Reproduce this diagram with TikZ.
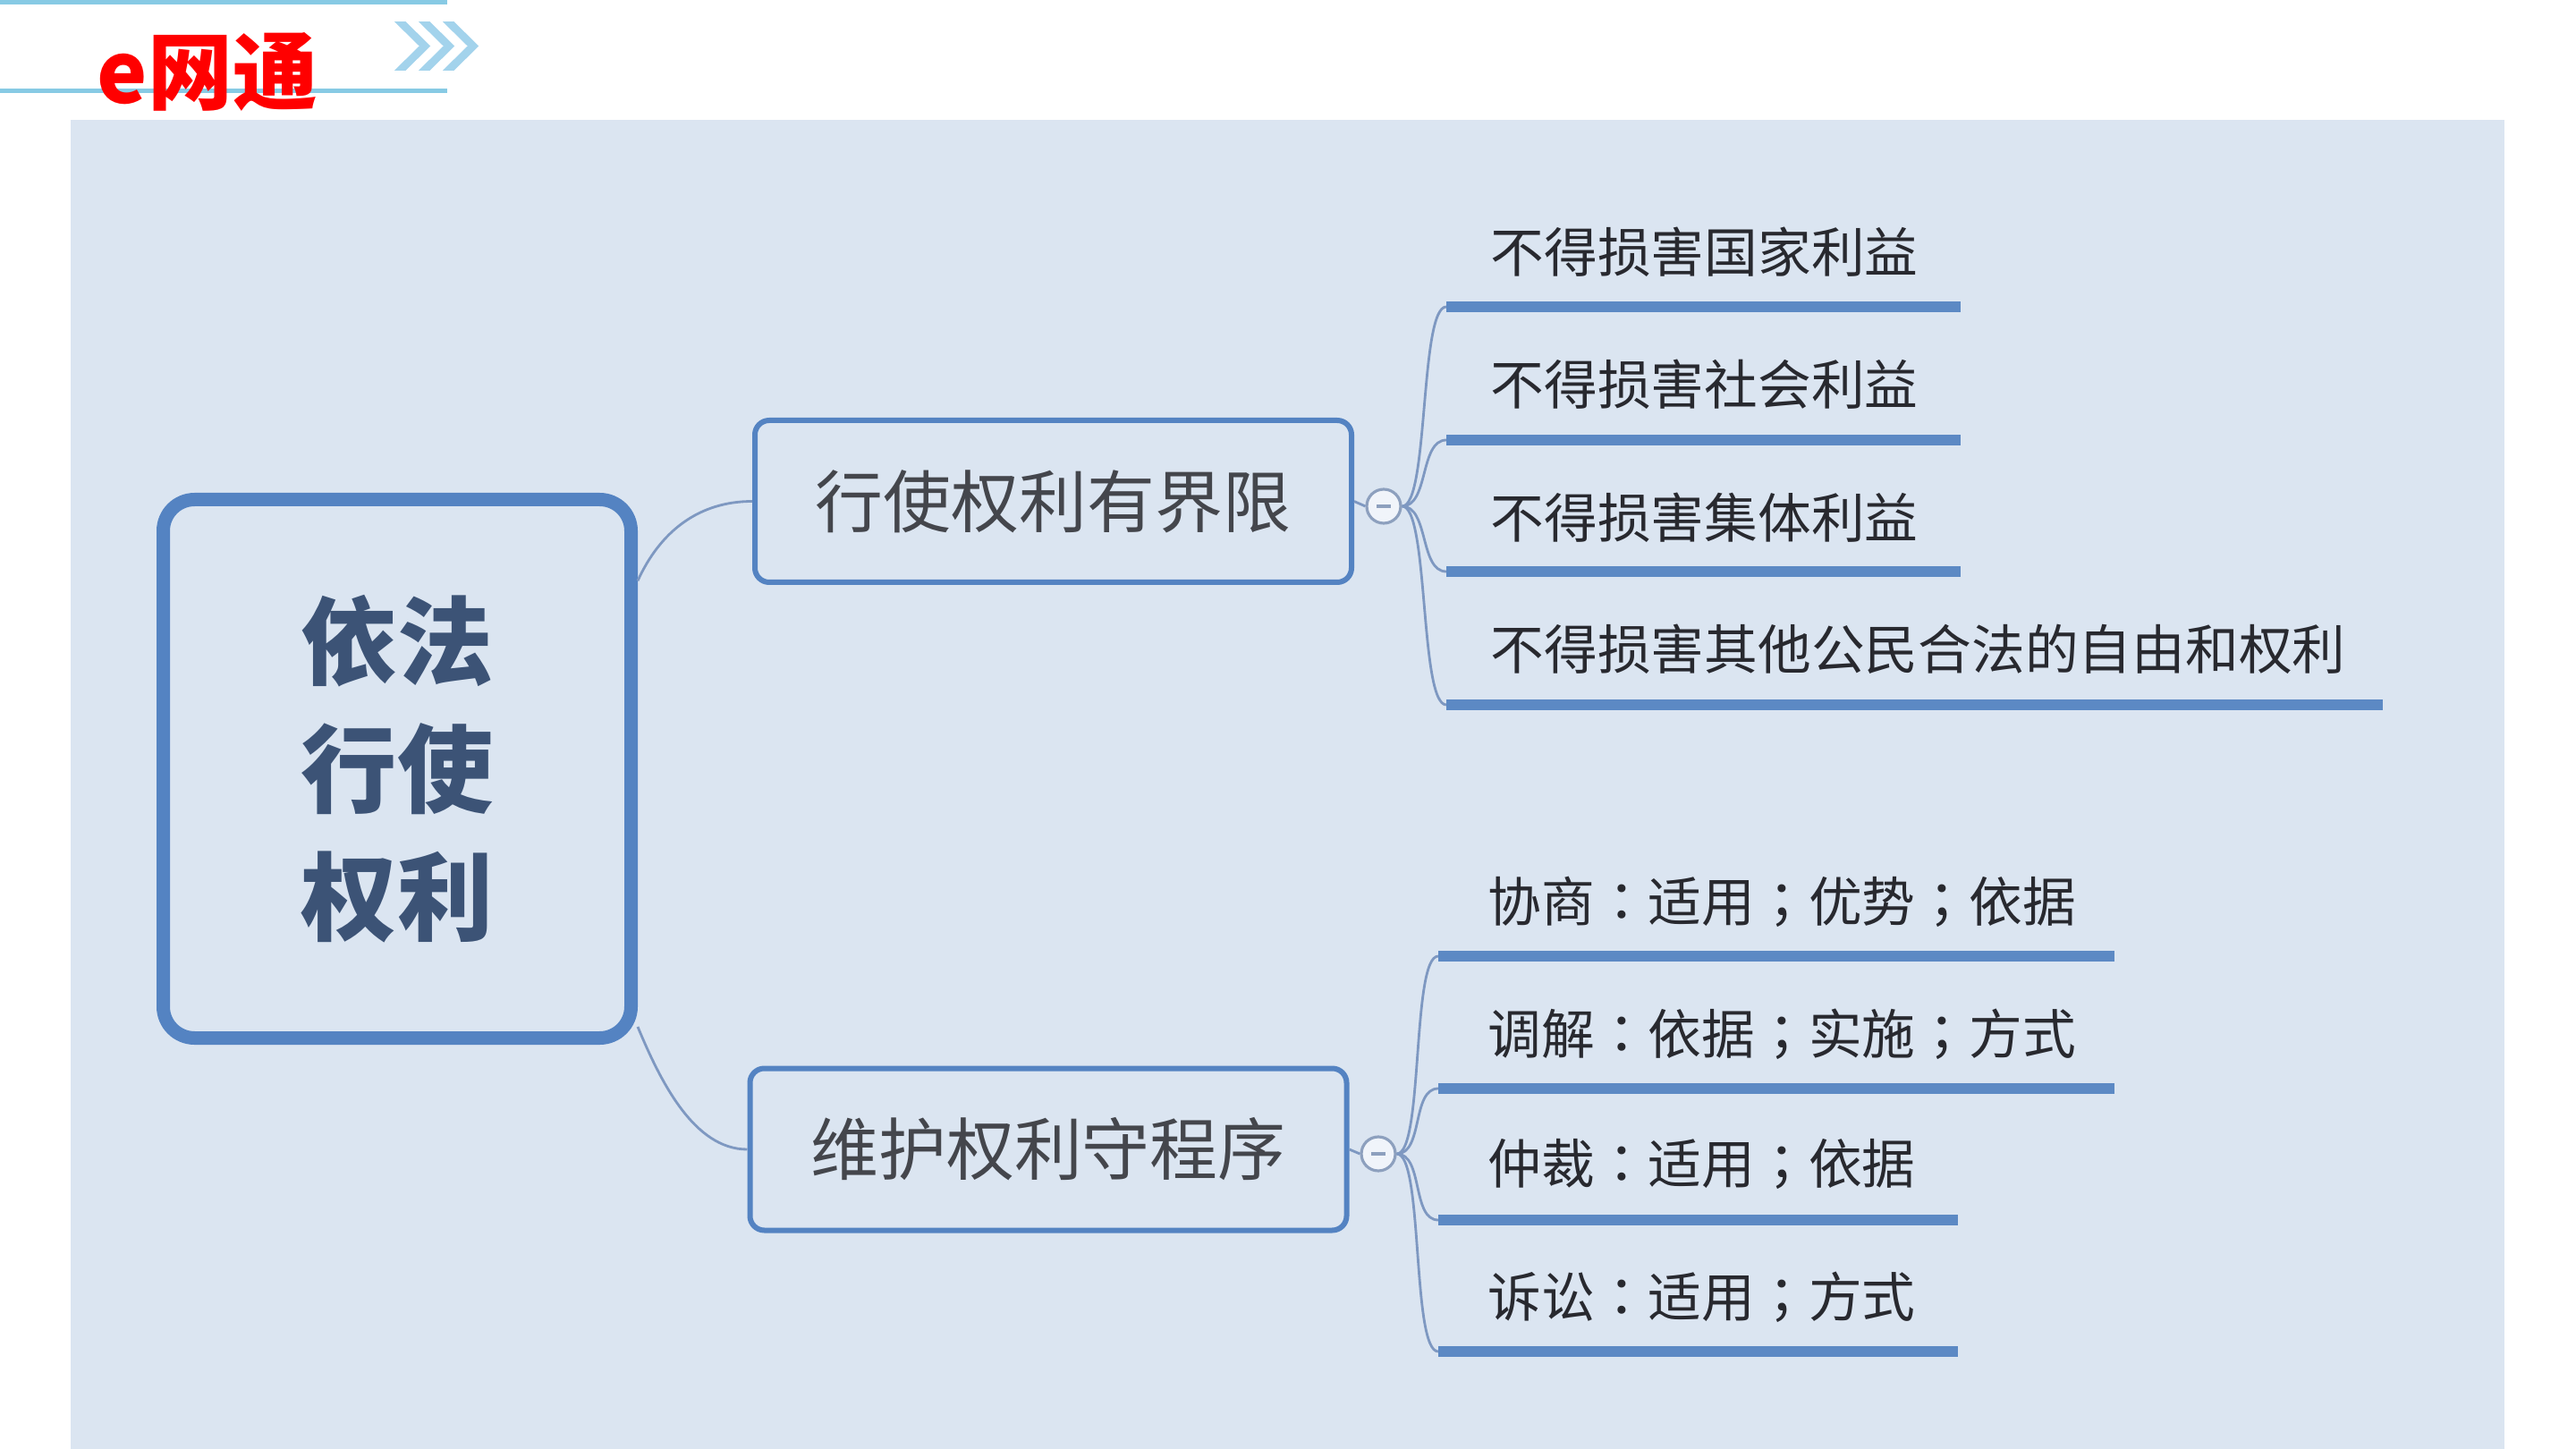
\documentclass[tikz,border=0pt]{standalone}
\usepackage{fontspec}
\setmainfont{Noto Sans CJK SC}
\newfontfamily\tcpunct{Noto Sans CJK TC}
\newcommand{\zcolon}{{\tcpunct ：}}
\newcommand{\zsemi}{{\tcpunct ；}}
\usepackage{tikz}
\usetikzlibrary{arrows}
\definecolor{bgblue}{RGB}{219,229,241}
\definecolor{boxblue}{RGB}{84,131,194}
\definecolor{barblue}{RGB}{92,137,196}
\definecolor{edgeblue}{RGB}{126,152,193}
\definecolor{foldgray}{RGB}{141,160,190}
\definecolor{foldfill}{RGB}{240,244,250}
\definecolor{roottext}{RGB}{60,83,118}
\definecolor{branchtext}{RGB}{68,70,76}
\definecolor{leaftext}{RGB}{40,41,47}
\definecolor{lineblue}{RGB}{135,202,228}
\definecolor{chevblue}{RGB}{163,211,236}
\begin{document}
\begin{tikzpicture}
        \tikzset{root/.style = {shape=rectangle, rounded corners=0.35cm, draw=boxblue, line width=0.15cm, fill=bgblue, minimum width=5.23cm, minimum height=6.02cm, align=center, text=roottext, font=\fontsize{30.5}{40.7}\selectfont\bfseries}}
        \tikzset{branch/.style = {shape=rectangle, rounded corners=0.16cm, draw=boxblue, line width=0.06cm, fill=bgblue, minimum width=6.67cm, minimum height=1.81cm, text=branchtext, font=\fontsize{21.6}{26}\selectfont}}
        \tikzset{leaf/.style = {anchor=west, inner sep=0pt, text=leaftext, font=\fontsize{17}{20}\selectfont}}
        \tikzset{fold/.style = {shape=circle, draw=foldgray, fill=foldfill, line width=0.9pt, minimum size=0.38cm, inner sep=0pt,
            path picture={\draw[foldgray, line width=1.2pt] ([xshift=-0.08cm]path picture bounding box.center) -- ([xshift=0.08cm]path picture bounding box.center);}}}
        \tikzset{edge/.style = {draw=edgeblue, line width=0.8pt}}
        \tikzset{bar/.style = {draw=barblue, line width=0.12cm}}
        \useasboundingbox (0,0) rectangle (28.8,-16.2);

        % header
        \draw[lineblue, line width=0.05cm] (0,-0.025) -- (5.0,-0.025);
        \draw[lineblue, line width=0.05cm] (0,-1.015) -- (5.0,-1.015);
        \foreach \x in {4.36,4.63,4.90}
            \fill[chevblue, draw=white, line width=1pt] (\x,-0.22) -- ++(0.18,0) -- ++(0.3,-0.295) -- ++(-0.3,-0.295) -- ++(-0.18,0) -- ++(0.3,0.295) -- cycle;
        \node[text=red, font=\fontsize{27}{30}\selectfont\bfseries] (logo) at (2.32,-0.80) {e网通};
        \fill[bgblue] (0.79,-1.34) rectangle (28.0,-16.2);

        % vertices
        \node[root] (law) at (4.44,-8.595) {依法\\行使\\权利};
        \node[branch] (limit) at (11.775,-5.605) {行使权利有界限};
        \node[branch] (proc) at (11.72,-12.85) {维护权利守程序};
        \node[fold] (f1) at (15.47,-5.66) {};
        \node[fold] (f2) at (15.41,-12.90) {};

        \node[leaf] (l1) at (16.66,-2.82) {不得损害国家利益};
        \node[leaf] (l2) at (16.66,-4.30) {不得损害社会利益};
        \node[leaf] (l3) at (16.66,-5.79) {不得损害集体利益};
        \node[leaf] (l4) at (16.66,-7.26) {不得损害其他公民合法的自由和权利};
        \node[leaf] (m1) at (16.63,-10.08) {协商\zcolon 适用\zsemi 优势\zsemi 依据};
        \node[leaf] (m2) at (16.63,-11.56) {调解\zcolon 依据\zsemi 实施\zsemi 方式};
        \node[leaf] (m3) at (16.63,-13.01) {仲裁\zcolon 适用\zsemi 依据};
        \node[leaf] (m4) at (16.63,-14.50) {诉讼\zcolon 适用\zsemi 方式};

        \coordinate (l1a) at (16.17,-3.43); \coordinate (l1b) at (21.92,-3.43);
        \coordinate (l2a) at (16.17,-4.92); \coordinate (l2b) at (21.92,-4.92);
        \coordinate (l3a) at (16.17,-6.39); \coordinate (l3b) at (21.92,-6.39);
        \coordinate (l4a) at (16.17,-7.88); \coordinate (l4b) at (26.64,-7.88);
        \coordinate (m1a) at (16.08,-10.69); \coordinate (m1b) at (23.64,-10.69);
        \coordinate (m2a) at (16.08,-12.17); \coordinate (m2b) at (23.64,-12.17);
        \coordinate (m3a) at (16.08,-13.64); \coordinate (m3b) at (21.89,-13.64);
        \coordinate (m4a) at (16.08,-15.11); \coordinate (m4b) at (21.89,-15.11);

        %edges
        \draw[edge] (law.38) .. controls +(0.25,0.55) and +(-0.6,0) .. (limit.west);
        \draw[edge] (law.-47) .. controls +(0.25,-0.6) and +(-0.6,0) .. (proc.west);
        \draw[edge] (limit.east) -- (f1.west);
        \draw[edge] (proc.east) -- (f2.west);

        \foreach \t in {l1,l2,l3,l4} {
            \draw[edge] (f1.east) .. controls +(0.3,0) and +(-0.3,0) .. (\t a);
            \draw[bar] (\t a) -- (\t b);
        }
        \foreach \t in {m1,m2,m3,m4} {
            \draw[edge] (f2.east) .. controls +(0.3,0) and +(-0.3,0) .. (\t a);
            \draw[bar] (\t a) -- (\t b);
        }
    \end{tikzpicture}
\end{document}
